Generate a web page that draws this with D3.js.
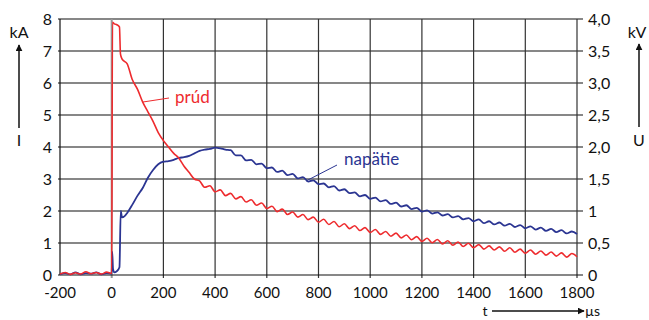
<!DOCTYPE html>
<html>
<head>
<meta charset="utf-8">
<script src="https://cdn.jsdelivr.net/npm/d3@7"></script>
<style>
  body { margin: 0; background: #fff; }
  #chart { width: 649px; height: 320px; }
  text { font-family: Lato, "Open Sans", sans-serif; }
</style>
</head>
<body>
<div id="chart"></div>
<script>
  /* DATA */
  const xTicks = [-200, 0, 200, 400, 600, 800, 1000, 1200, 1400, 1600, 1800];
  const leftTicks = [0, 1, 2, 3, 4, 5, 6, 7, 8];
  const rightTicks = [0, 0.5, 1, 1.5, 2, 2.5, 3, 3.5, 4];
  const rightTickLabels = ["0", "0,5", "1", "1,5", "2,0", "2,5", "3,0", "3,5", "4,0"];

  // prúd (kA)
  const currentTime = [-200,-180,-160,-140,-120,-100,-80,-60,-40,-20,0,3,10,20,30,34,40,60,80,100,120,140,160,180,200,220,240,260,280,300,320,
    340,360,380,400,420,440,460,480,500,520,540,560,580,600,620,640,660,680,700,720,740,760,780,800,820,840,860,880,900,920,940,960,980,1000,
    1020,1040,1060,1080,1100,1120,1140,1160,1180,1200,1220,1240,1260,1280,1300,1320,1340,1360,1380,1400,1420,1440,1460,1480,1500,
    1520,1540,1560,1580,1600,1620,1640,1660,1680,1700,1720,1740,1760,1780,1800];
  const currentKA = [0.03,0.08,0.02,0.07,0.03,0.1,0.04,0.08,0.03,0.09,0.05,7.9,7.85,7.82,7.75,6.9,6.75,6.6,6.1,5.8,5.4,5.1,4.8,4.45,4.2,4.0,3.8,3.65,3.4,3.2,3.0,
    2.94,2.74,2.79,2.60,2.66,2.48,2.55,2.38,2.45,2.28,2.35,2.18,2.25,2.08,2.15,1.98,2.06,1.89,1.97,1.81,1.89,1.73,1.81,1.65,1.74,1.58,1.67,1.51,1.60,1.45,1.54,1.39,1.48,1.33,
    1.42,1.27,1.36,1.21,1.31,1.16,1.25,1.10,1.20,1.05,1.15,1.01,1.11,0.97,1.07,0.93,1.03,0.89,0.99,0.85,0.95,0.81,0.91,0.78,0.88,
    0.74,0.85,0.71,0.81,0.68,0.78,0.65,0.75,0.62,0.72,0.59,0.69,0.56,0.67,0.57];

  // napätie (kV)
  const voltageTime = [-200,-180,-160,-140,-120,-100,-80,-60,-40,-20,0,2,5,10,20,30,35,40,50,60,80,100,120,140,160,180,200,220,240,260,280,300,320,340,360,380,400,420,440,
    460,480,500,520,540,560,580,600,620,640,660,680,700,720,740,760,780,800,820,840,860,880,900,920,940,960,980,1000,
    1020,1040,1060,1080,1100,1120,1140,1160,1180,1200,1220,1240,1260,1280,1300,1320,1340,1360,1380,1400,1420,1440,1460,1480,1500,
    1520,1540,1560,1580,1600,1620,1640,1660,1680,1700,1720,1740,1760,1780,1800];
  const voltageKV = [0.01,0.03,0.01,0.04,0.01,0.03,0.02,0.04,0.01,0.03,0.02,0.36,0.1,0.04,0.06,0.12,1.0,0.9,0.92,0.97,1.1,1.24,1.36,1.52,1.64,1.73,1.77,1.78,1.80,1.83,1.84,1.86,1.90,1.94,1.96,1.97,1.99,1.98,1.96,
    1.95,1.87,1.87,1.79,1.80,1.73,1.74,1.67,1.68,1.61,1.63,1.56,1.58,1.51,1.53,1.46,1.48,1.42,1.43,1.37,1.39,1.32,1.34,1.28,1.29,1.23,1.25,1.19,
    1.21,1.15,1.17,1.11,1.13,1.07,1.09,1.03,1.05,0.99,1.01,0.96,0.98,0.93,0.95,0.90,0.92,0.87,0.89,0.84,0.87,0.81,0.84,0.79,0.82,
    0.77,0.80,0.75,0.78,0.73,0.76,0.71,0.74,0.69,0.72,0.67,0.70,0.65,0.68,0.64];

  const current = currentTime.map((t, i) => ({t: t, v: currentKA[i]}));
  const voltage = voltageTime.map((t, i) => ({t: t, v: voltageKV[i]}));

  /* CANVAS */
  const width = 649, height = 320;
  const margin = {top: 19, left: 60, right: 72, bottom: 45};
  const red = "#ee2b2e", blue = "#2b3592";

  const svg = d3.select("#chart").append("svg")
    .attr("width", width)
    .attr("height", height);

  /* SCALES */
  const xScale = d3.scaleLinear().domain([-200, 1800]).range([margin.left, width - margin.right]);
  const yScale = d3.scaleLinear().domain([0, 8]).range([height - margin.bottom, margin.top]);
  const yRight = d3.scaleLinear().domain([0, 4]).range([height - margin.bottom, margin.top]);

  /* GRID */
  svg.append("g").selectAll("line")
    .data(leftTicks.filter(d => d > 0))
    .enter().append("line")
      .attr("x1", margin.left - 2).attr("x2", width - margin.right + 6)
      .attr("y1", d => yScale(d)).attr("y2", d => yScale(d))
      .attr("stroke", "#111").attr("stroke-width", 1.2);

  svg.append("g").selectAll("line")
    .data(xTicks.filter(d => d > -200))
    .enter().append("line")
      .attr("x1", d => xScale(d)).attr("x2", d => xScale(d))
      .attr("y1", margin.top).attr("y2", height - margin.bottom + 3)
      .attr("stroke", d => d === 0 ? "#999" : "#333")
      .attr("stroke-width", d => d === 0 ? 2 : 1.2);

  // axes frame: left, bottom
  svg.append("line")
    .attr("x1", margin.left).attr("x2", margin.left)
    .attr("y1", margin.top).attr("y2", height - margin.bottom)
    .attr("stroke", "#111").attr("stroke-width", 1.2);
  svg.append("line")
    .attr("x1", margin.left - 2).attr("x2", width - margin.right + 6)
    .attr("y1", yScale(0)).attr("y2", yScale(0))
    .attr("stroke", "#111").attr("stroke-width", 1.2);

  /* TICK LABELS */
  svg.append("g").selectAll("text")
    .data(leftTicks)
    .enter().append("text")
      .attr("x", margin.left - 8)
      .attr("y", d => yScale(d) + 5.5)
      .attr("text-anchor", "end")
      .attr("font-size", 16)
      .attr("fill", "#111")
      .text(d => d);

  svg.append("g").selectAll("text")
    .data(rightTicks)
    .enter().append("text")
      .attr("x", width - margin.right + 11)
      .attr("y", d => yRight(d) + 5.5)
      .attr("font-size", 16)
      .attr("fill", "#111")
      .text((d, i) => rightTickLabels[i]);

  svg.append("g").selectAll("text")
    .data(xTicks)
    .enter().append("text")
      .attr("x", d => xScale(d))
      .attr("y", height - margin.bottom + 23)
      .attr("text-anchor", "middle")
      .attr("font-size", 15)
      .attr("fill", "#111")
      .text(d => d);

  /* LINES */
  const line = d3.line()
    .x(d => xScale(d.t))
    .curve(d3.curveMonotoneX);

  svg.append("path")
    .datum(voltage)
    .attr("d", line.y(d => yRight(d.v)))
    .attr("fill", "none")
    .attr("stroke", blue)
    .attr("stroke-width", 1.8);

  svg.append("path")
    .datum(current)
    .attr("d", line.y(d => yScale(d.v)))
    .attr("fill", "none")
    .attr("stroke", red)
    .attr("stroke-width", 1.6);

  /* SERIES LABELS */
  svg.append("line")
    .attr("x1", 143).attr("y1", 102).attr("x2", 169).attr("y2", 98)
    .attr("stroke", red).attr("stroke-width", 1);
  svg.append("text")
    .attr("x", 175).attr("y", 103)
    .attr("font-size", 17).attr("fill", red)
    .text("prúd");

  svg.append("line")
    .attr("x1", 306).attr("y1", 181).attr("x2", 337).attr("y2", 165)
    .attr("stroke", blue).attr("stroke-width", 1);
  svg.append("text")
    .attr("x", 344).attr("y", 165)
    .attr("font-size", 17).attr("fill", blue)
    .text("napätie");

  /* AXIS TITLES WITH ARROWS */
  svg.append("defs").append("marker")
    .attr("id", "arrow")
    .attr("viewBox", "0 0 10 10")
    .attr("refX", 9).attr("refY", 5)
    .attr("markerWidth", 7).attr("markerHeight", 7)
    .attr("markerUnits", "userSpaceOnUse")
    .attr("orient", "auto")
    .append("path")
      .attr("d", "M0,0L10,5L0,10Z")
      .attr("fill", "#111");

  function arrow(x1, y1, x2, y2) {
    svg.append("line")
      .attr("x1", x1).attr("y1", y1).attr("x2", x2).attr("y2", y2)
      .attr("stroke", "#111").attr("stroke-width", 1.5)
      .attr("marker-end", "url(#arrow)");
  }

  svg.append("text").attr("x", 19).attr("y", 38).attr("text-anchor", "middle")
    .attr("font-size", 16).attr("fill", "#111").text("kA");
  arrow(19, 128, 19, 45);
  svg.append("text").attr("x", 19).attr("y", 146).attr("text-anchor", "middle")
    .attr("font-size", 16).attr("fill", "#111").text("I");

  svg.append("text").attr("x", 637).attr("y", 38).attr("text-anchor", "middle")
    .attr("font-size", 16).attr("fill", "#111").text("kV");
  arrow(639, 127, 639, 44);
  svg.append("text").attr("x", 639).attr("y", 146).attr("text-anchor", "middle")
    .attr("font-size", 16).attr("fill", "#111").text("U");

  svg.append("text").attr("x", 485).attr("y", 316).attr("text-anchor", "middle")
    .attr("font-size", 14).attr("fill", "#111").text("t");
  arrow(492, 311, 584, 311);
  svg.append("text").attr("x", 585).attr("y", 316)
    .attr("font-size", 14).attr("fill", "#111").text("µs");
</script>
</body>
</html>
